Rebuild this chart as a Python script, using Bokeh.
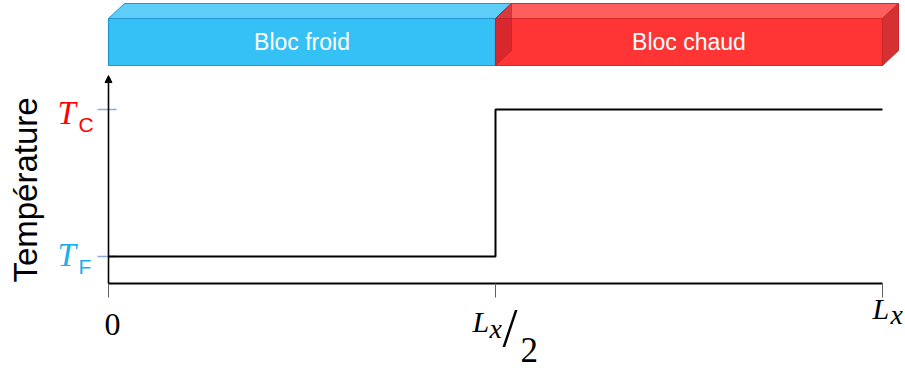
import numpy as np
from bokeh.plotting import figure
from bokeh.models import ColumnDataSource, Arrow, NormalHead, Range1d
from bokeh.core.properties import value
from bokeh.embed import file_html
from bokeh.resources import INLINE

# ---------------- data ----------------
x_ticks = [0.0, 0.5, 1.0]                 # 0, Lx/2, Lx (in units of Lx)
T_F = 0.155                               # cold temperature level
T_C = 1.0                                 # hot temperature level
profile_x = [0.0, 0.5, 0.5, 1.0]
profile_T = [T_F, T_F, T_C, T_C]

block_names = ["Bloc froid", "Bloc chaud"]
block_x0 = [0.0, 0.5]
block_x1 = [0.5, 1.0]
block_y0 = 1.253
block_y1 = 1.523
block_front = ["#35C1F5", "#FF3434"]
block_top = ["#5ECEF8", "#FF5E5E"]
block_edge = ["#2196D6", "#D8262B"]
y_axis_top = 1.195

# ---------------- scales ----------------
W, H = 905, 370
px_x = 774.0   # pixels per unit x
px_y = 174.0   # pixels per unit y
x0_px, y0_px = 108, 283   # canvas position of data origin
xr = Range1d(-x0_px / px_x, (W - x0_px) / px_x)
yr = Range1d(-(H - y0_px) / px_y, y0_px / px_y)

p = figure(width=W, height=H, x_range=xr, y_range=yr, output_backend="svg",
           toolbar_location=None, min_border=0)
p.axis.visible = False
p.grid.visible = False
p.outline_line_color = None
p.background_fill_color = "white"
p.border_fill_color = "white"

dx = 16 / px_x
dy = 15 / px_y

# ---------------- blocks ----------------
for i in range(2):
    xa, xb = block_x0[i], block_x1[i]
    # top face
    p.patch([xa, xa + dx, xb + dx, xb], [block_y1, block_y1 + dy, block_y1 + dy, block_y1],
            fill_color=block_top[i], line_color=block_edge[i], line_width=1)
    # front face
    p.patch([xa, xb, xb, xa], [block_y0, block_y0, block_y1, block_y1],
            fill_color=block_front[i], line_color=block_edge[i], line_width=1.2)
# right side face of hot block
xb = block_x1[1]
p.patch([xb, xb + dx, xb + dx, xb], [block_y0, block_y0 + dy, block_y1 + dy, block_y1],
        fill_color="#D53032", line_color="#C8262A", line_width=1)
# hidden left face of the hot block, seen through the translucent front
xa = block_x0[1]
p.patch([xa, xa + dx, xa + dx, xa], [block_y0, block_y0 + dy, block_y1 + dy, block_y1],
        fill_color="#B81E28", fill_alpha=0.55, line_color="#C0202A", line_alpha=0.6, line_width=1)

bsrc = ColumnDataSource(dict(x=[(a + b) / 2 for a, b in zip(block_x0, block_x1)],
                             y=[(block_y0 + block_y1) / 2] * 2, t=block_names))
p.text(x="x", y="y", text="t", source=bsrc, text_color="white",
       text_font=value("Liberation Sans"), text_font_size="23px",
       text_align="center", text_baseline="middle")

# ---------------- axes ----------------
p.line([0, 1], [0, 0], line_color="black", line_width=2)
p.add_layout(Arrow(x_start=0, y_start=0, x_end=0, y_end=y_axis_top,
                   line_color="black", line_width=1.6,
                   end=NormalHead(size=7, fill_color="black", line_color="black")))
tick_len = 14 / px_y
p.segment(x0=x_ticks, y0=[0] * 3, x1=x_ticks, y1=[-tick_len] * 3,
          line_color="#606060", line_width=1)
p.segment(x0=[-11 / px_x] * 2, y0=[T_C, T_F], x1=[8 / px_x] * 2, y1=[T_C, T_F],
          line_color="#8FAADC", line_width=1.5)

# ---------------- profile ----------------
p.line(profile_x, profile_T, line_color="black", line_width=2)

# ---------------- labels ----------------
serif = value("Liberation Serif")
sans = value("Liberation Sans")


def lab(x, y, t, font, size, dxo, dyo, style="normal", color="black", align="left"):
    p.text(x=[x], y=[y], text=[t], text_font=font, text_font_style=style,
           text_font_size=f"{size}px", text_color=color, text_align=align,
           text_baseline="alphabetic", x_offset=dxo, y_offset=dyo)


lab(x_ticks[0], 0, "0", serif, 32, 4, 41, align="center")
# Lx/2
lab(x_ticks[1], 0, "L", serif, 30, -23, 38, style="italic")
lab(x_ticks[1], 0, "x", serif, 28, -6, 45, style="italic")
lab(x_ticks[1], 0, "/", serif, 54, 7, 44)
lab(x_ticks[1], 0, "2", serif, 35, 25, 66)
# Lx
lab(x_ticks[2], 0, "L", serif, 30, -10, 25, style="italic")
lab(x_ticks[2], 0, "x", serif, 28, 8, 31, style="italic")

# T_C, T_F
lab(0, T_C, "T", serif, 33, -51, 3, style="italic", color="#FF0000")
lab(0, T_C, "C", sans, 21, -30, 15, color="#FF0000")
lab(0, T_F, "T", serif, 33, -51, -2, style="italic", color="#1AAEEF")
lab(0, T_F, "F", sans, 21, -30, 10, color="#1AAEEF")

p.text(x=[-83 / px_x], y=[(T_C + T_F) / 2 - 0.04], text=["Température"], text_font=sans,
       text_font_size="33px", angle=np.pi / 2, text_align="center",
       text_baseline="middle", text_color="black")

open("out.html", "w").write(file_html(p, INLINE))
